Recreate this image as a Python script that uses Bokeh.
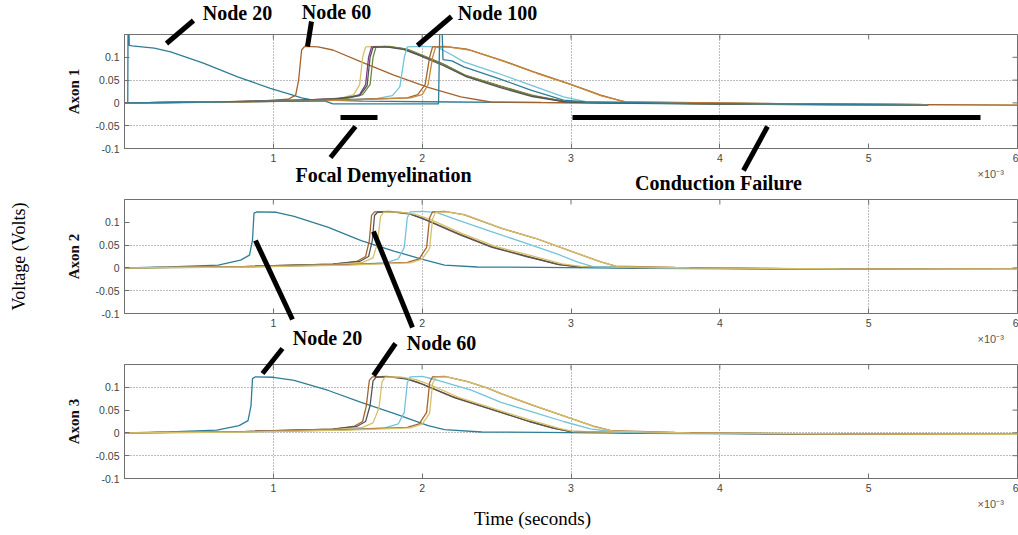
import math

from bokeh.core.properties import value
from bokeh.embed import file_html
from bokeh.layouts import column
from bokeh.models import FixedTicker, Range1d
from bokeh.plotting import figure
from bokeh.resources import INLINE

# ---------------------------------------------------------------------------
# Membrane potential traces (time in ms, i.e. seconds x 10^-3; voltage in V)
# ---------------------------------------------------------------------------

# Axon 1 (focal demyelination -> conduction failure)
AX1_N20_T = [0.0, 0.022, 0.024, 0.028, 0.032, 0.05, 0.2, 0.31, 0.53, 0.76, 0.98, 1.12, 1.19, 1.25, 1.6, 2.2, 3.0, 3.8, 4.6, 5.4]
AX1_N20_V = [0.0, 0.0, 0.2, 0.2, 0.126, 0.125, 0.12, 0.112, 0.087, 0.057, 0.032, 0.018, 0.011, 0.007, 0.004, 0.002, 0.0, -0.002, -0.004, -0.005]
AX1_N60_T = [0.0, 0.5, 0.9, 1.1, 1.15, 1.17, 1.19, 1.21, 1.3, 1.4, 1.59, 1.81, 2.04, 2.26, 2.46, 2.8, 3.5, 4.3, 5.4]
AX1_N60_V = [0.0, 0.001, 0.004, 0.008, 0.017, 0.05, 0.116, 0.124, 0.123, 0.116, 0.09, 0.061, 0.034, 0.013, 0.002, 0.001, 0.0, -0.003, -0.005]
AX1_KHAKI_T = [0.0, 0.6, 1.2, 1.45, 1.54, 1.58, 1.6, 1.62, 1.7, 1.85, 1.95, 2.13, 2.28, 2.51, 2.73, 2.96, 3.2, 4.0, 5.0, 6.0]
AX1_KHAKI_V = [0.0, 0.002, 0.006, 0.01, 0.018, 0.04, 0.1, 0.123, 0.124, 0.12, 0.109, 0.087, 0.062, 0.039, 0.018, 0.003, 0.001, -0.001, -0.004, -0.005]
AX1_PURPLE_T = [0.0, 0.6, 1.2, 1.5, 1.58, 1.62, 1.64, 1.66, 1.75, 1.87, 1.97, 2.14, 2.29, 2.52, 2.74, 2.97, 3.2, 4.2, 5.4]
AX1_PURPLE_V = [0.0, 0.002, 0.006, 0.011, 0.018, 0.04, 0.1, 0.123, 0.124, 0.119, 0.107, 0.085, 0.06, 0.037, 0.016, 0.002, 0.001, -0.002, -0.004]
AX1_OLIVE_T = [0.0, 0.6, 1.2, 1.5, 1.6, 1.65, 1.67, 1.69, 1.78, 1.9, 2.0, 2.15, 2.3, 2.53, 2.75, 2.98, 3.3, 4.5, 5.4]
AX1_OLIVE_V = [0.0, 0.002, 0.005, 0.01, 0.018, 0.04, 0.1, 0.123, 0.124, 0.118, 0.105, 0.084, 0.059, 0.036, 0.015, 0.002, 0.0, -0.003, -0.004]
AX1_DARK_T = [0.0, 0.8, 1.4, 1.58, 1.63, 1.65, 1.67, 1.76, 1.88, 1.98, 2.14, 2.3, 2.52, 2.74, 2.97, 3.2, 4.0, 5.4]
AX1_DARK_V = [0.0, 0.003, 0.008, 0.016, 0.038, 0.1, 0.122, 0.123, 0.117, 0.104, 0.082, 0.057, 0.034, 0.014, 0.002, 0.0, -0.002, -0.004]
AX1_CYAN_T = [0.0, 0.8, 1.4, 1.7, 1.8, 1.85, 1.88, 1.9, 2.0, 2.1, 2.2, 2.28, 2.51, 2.73, 2.95, 3.1, 3.5, 4.5, 5.4]
AX1_CYAN_V = [0.0, 0.002, 0.006, 0.01, 0.016, 0.035, 0.1, 0.123, 0.124, 0.123, 0.105, 0.09, 0.065, 0.039, 0.013, 0.003, 0.001, -0.002, -0.004]
AX1_BLUE_T = [0.0, 0.6, 1.1, 1.35, 1.4, 2.11, 2.12, 2.13, 2.14, 2.2, 2.28, 2.51, 2.73, 2.95, 3.1, 3.8, 4.6, 5.4]
AX1_BLUE_V = [0.0, 0.002, 0.004, 0.004, -0.002, -0.002, 0.2, 0.2, 0.095, 0.092, 0.079, 0.054, 0.028, 0.006, 0.002, -0.001, -0.003, -0.005]
AX1_BROWN2_T = [0.0, 0.8, 1.5, 1.9, 1.97, 2.02, 2.05, 2.07, 2.15, 2.3, 2.53, 2.75, 2.98, 3.2, 3.36, 3.7, 4.5, 5.4, 6.0]
AX1_BROWN2_V = [0.0, 0.003, 0.007, 0.011, 0.018, 0.04, 0.1, 0.123, 0.124, 0.118, 0.094, 0.068, 0.043, 0.017, 0.002, 0.001, -0.002, -0.004, -0.005]
AX1_ORANGE2_T = [0.0, 0.8, 1.5, 1.92, 2.0, 2.04, 2.07, 2.09, 2.17, 2.32, 2.55, 2.77, 3.0, 3.21, 3.37, 3.8, 4.6, 5.4]
AX1_ORANGE2_V = [0.0, 0.002, 0.006, 0.011, 0.018, 0.04, 0.1, 0.122, 0.123, 0.116, 0.091, 0.065, 0.04, 0.015, 0.002, 0.0, -0.003, -0.004]

# Axon 2
AX2_N20_T = [0.0, 0.3, 0.63, 0.78, 0.84, 0.86, 0.87, 0.89, 1.02, 1.14, 1.37, 1.59, 1.81, 1.99, 2.15, 2.37, 2.8, 3.5, 4.2, 5.4, 6.0]
AX2_N20_V = [0.0, 0.002, 0.006, 0.017, 0.028, 0.061, 0.12, 0.123, 0.122, 0.113, 0.089, 0.06, 0.037, 0.02, 0.006, 0.002, 0.001, -0.001, -0.002, -0.003, -0.003]
AX2_BROWN_T = [0.0, 0.8, 1.4, 1.56, 1.62, 1.645, 1.66, 1.68, 1.78, 1.9, 2.0, 2.24, 2.46, 2.69, 2.91, 3.05, 3.4, 4.4, 5.4]
AX2_BROWN_V = [0.0, 0.003, 0.008, 0.014, 0.025, 0.06, 0.115, 0.123, 0.124, 0.12, 0.109, 0.076, 0.047, 0.027, 0.008, 0.003, 0.001, -0.002, -0.003]
AX2_DARK_T = [0.0, 0.8, 1.4, 1.58, 1.64, 1.665, 1.68, 1.7, 1.8, 1.92, 2.02, 2.25, 2.47, 2.7, 2.92, 3.06, 3.5, 4.6, 5.4]
AX2_DARK_V = [0.0, 0.003, 0.008, 0.014, 0.025, 0.06, 0.115, 0.122, 0.123, 0.118, 0.106, 0.073, 0.045, 0.025, 0.007, 0.002, 0.0, -0.002, -0.003]
AX2_KHAKI_T = [0.0, 0.8, 1.4, 1.6, 1.67, 1.7, 1.72, 1.74, 1.84, 1.95, 2.05, 2.27, 2.49, 2.72, 2.94, 3.08, 3.6, 4.8, 6.0]
AX2_KHAKI_V = [0.0, 0.002, 0.007, 0.012, 0.022, 0.055, 0.112, 0.122, 0.123, 0.118, 0.107, 0.075, 0.047, 0.028, 0.009, 0.003, 0.0, -0.002, -0.003]
AX2_CYAN_T = [0.0, 0.8, 1.4, 1.75, 1.84, 1.88, 1.9, 1.92, 2.0, 2.1, 2.24, 2.46, 2.69, 2.91, 3.05, 3.15, 3.6, 4.6, 5.4]
AX2_CYAN_V = [0.0, 0.002, 0.006, 0.011, 0.02, 0.045, 0.11, 0.123, 0.124, 0.121, 0.105, 0.08, 0.055, 0.03, 0.012, 0.003, 0.0, -0.002, -0.003]
AX2_BROWN2_T = [0.0, 0.8, 1.5, 1.9, 1.98, 2.03, 2.05, 2.07, 2.15, 2.28, 2.53, 2.76, 2.98, 3.2, 3.3, 3.7, 4.6, 5.4, 6.0]
AX2_BROWN2_V = [0.0, 0.003, 0.007, 0.012, 0.02, 0.045, 0.11, 0.123, 0.124, 0.117, 0.087, 0.065, 0.039, 0.013, 0.004, 0.001, -0.002, -0.003, -0.003]
AX2_KHAKI2_T = [0.0, 0.8, 1.5, 1.92, 2.0, 2.05, 2.07, 2.09, 2.17, 2.3, 2.55, 2.78, 3.0, 3.21, 3.31, 3.8, 4.8, 6.0]
AX2_KHAKI2_V = [0.0, 0.002, 0.006, 0.011, 0.019, 0.043, 0.108, 0.122, 0.123, 0.115, 0.085, 0.063, 0.037, 0.012, 0.003, 0.0, -0.002, -0.003]

# Axon 3
AX3_N20_T = [0.0, 0.3, 0.62, 0.77, 0.83, 0.85, 0.86, 0.88, 1.0, 1.14, 1.37, 1.59, 1.81, 2.04, 2.15, 2.4, 2.8, 3.5, 4.3, 5.4, 6.0]
AX3_N20_V = [0.0, 0.002, 0.006, 0.016, 0.027, 0.06, 0.119, 0.123, 0.122, 0.115, 0.093, 0.067, 0.043, 0.016, 0.007, 0.002, 0.001, -0.001, -0.002, -0.003, -0.003]
AX3_BROWN_T = [0.0, 0.8, 1.4, 1.54, 1.6, 1.625, 1.645, 1.665, 1.76, 1.88, 1.98, 2.2, 2.53, 2.7, 2.87, 2.98, 3.3, 4.4, 5.4]
AX3_BROWN_V = [0.0, 0.003, 0.008, 0.014, 0.025, 0.06, 0.115, 0.123, 0.124, 0.12, 0.11, 0.08, 0.045, 0.027, 0.011, 0.004, 0.001, -0.002, -0.003]
AX3_DARK_T = [0.0, 0.8, 1.4, 1.56, 1.62, 1.65, 1.67, 1.69, 1.78, 1.9, 2.0, 2.22, 2.55, 2.72, 2.89, 3.0, 3.4, 4.6, 5.4]
AX3_DARK_V = [0.0, 0.003, 0.008, 0.014, 0.025, 0.06, 0.114, 0.122, 0.123, 0.118, 0.107, 0.077, 0.043, 0.025, 0.01, 0.003, 0.0, -0.002, -0.003]
AX3_KHAKI_T = [0.0, 0.8, 1.4, 1.6, 1.67, 1.71, 1.73, 1.75, 1.85, 1.96, 2.05, 2.26, 2.58, 2.75, 2.92, 3.02, 3.6, 4.8, 6.0]
AX3_KHAKI_V = [0.0, 0.002, 0.007, 0.012, 0.022, 0.055, 0.112, 0.122, 0.123, 0.117, 0.106, 0.076, 0.043, 0.026, 0.01, 0.003, 0.0, -0.002, -0.003]
AX3_CYAN_T = [0.0, 0.8, 1.4, 1.75, 1.84, 1.88, 1.9, 1.92, 2.0, 2.1, 2.33, 2.53, 2.75, 2.95, 3.13, 3.3, 3.8, 4.8, 5.4]
AX3_CYAN_V = [0.0, 0.002, 0.006, 0.011, 0.02, 0.045, 0.11, 0.123, 0.124, 0.116, 0.094, 0.067, 0.045, 0.025, 0.009, 0.002, 0.0, -0.002, -0.003]
AX3_BROWN2_T = [0.0, 0.8, 1.5, 1.9, 1.98, 2.03, 2.05, 2.07, 2.15, 2.3, 2.44, 2.53, 2.75, 2.98, 3.15, 3.27, 3.7, 4.6, 5.4, 6.0]
AX3_BROWN2_V = [0.0, 0.003, 0.007, 0.012, 0.02, 0.045, 0.11, 0.123, 0.124, 0.113, 0.098, 0.086, 0.06, 0.034, 0.015, 0.005, 0.001, -0.002, -0.003, -0.003]
AX3_KHAKI2_T = [0.0, 0.8, 1.5, 1.92, 2.0, 2.05, 2.07, 2.09, 2.17, 2.32, 2.46, 2.55, 2.77, 3.0, 3.16, 3.28, 3.8, 4.8, 6.0]
AX3_KHAKI2_V = [0.0, 0.002, 0.006, 0.011, 0.019, 0.043, 0.108, 0.122, 0.123, 0.111, 0.096, 0.084, 0.058, 0.032, 0.013, 0.004, 0.0, -0.002, -0.003]

# Axis ticks
X_TICKS = [1, 2, 3, 4, 5, 6]
Y_TICKS = [-0.1, -0.05, 0, 0.05, 0.1]
Y_TICK_LABELS = ["-0.1", "-0.05", "0", "0.05", "0.1"]

# ---------------------------------------------------------------------------
# Styling and layout
# ---------------------------------------------------------------------------
TEAL = "#2f7d96"
BROWN = "#a4632e"
KHAKI = "#d6c06a"
PURPLE = "#7a3d8c"
OLIVE = "#6b8a3a"
DARK = "#555555"
CYAN = "#74c3d9"
ORANGE = "#c7883a"
AXIS_GRAY = "#707070"
GRID_GRAY = "#7a7a7a"
SERIF = "Liberation Serif"
SANS = "Liberation Sans"

PAGE_W, PAGE_H = 1018, 535
FRAME_LEFT = 124
FRAME_W = 893
FRAME_H = 114
X_MIN, X_MAX = 0.0, 6.0
Y_MIN, Y_MAX = -0.1, 0.15
TICK_LEN = 5  # px, inward ticks

PANELS = [
    dict(name="Axon 1", canvas_top=0, height=190, frame_top=34,
         xgrid=[1, 2, 3, 4], ygrid=[-0.05, 0.05],
         traces=[(AX1_N20_T, AX1_N20_V, TEAL), (AX1_N60_T, AX1_N60_V, BROWN),
                 (AX1_KHAKI_T, AX1_KHAKI_V, KHAKI), (AX1_PURPLE_T, AX1_PURPLE_V, PURPLE),
                 (AX1_OLIVE_T, AX1_OLIVE_V, OLIVE), (AX1_DARK_T, AX1_DARK_V, DARK),
                 (AX1_CYAN_T, AX1_CYAN_V, CYAN), (AX1_BROWN2_T, AX1_BROWN2_V, BROWN),
                 (AX1_ORANGE2_T, AX1_ORANGE2_V, ORANGE), (AX1_BLUE_T, AX1_BLUE_V, TEAL)]),
    dict(name="Axon 2", canvas_top=190, height=165, frame_top=199,
         xgrid=[2, 5], ygrid=[-0.05, 0.05],
         traces=[(AX2_N20_T, AX2_N20_V, TEAL), (AX2_BROWN_T, AX2_BROWN_V, BROWN),
                 (AX2_DARK_T, AX2_DARK_V, DARK), (AX2_KHAKI_T, AX2_KHAKI_V, KHAKI),
                 (AX2_CYAN_T, AX2_CYAN_V, CYAN), (AX2_BROWN2_T, AX2_BROWN2_V, BROWN),
                 (AX2_KHAKI2_T, AX2_KHAKI2_V, KHAKI)]),
    dict(name="Axon 3", canvas_top=355, height=180, frame_top=364,
         xgrid=[1, 3, 4], ygrid=[-0.05, 0, 0.1],
         traces=[(AX3_N20_T, AX3_N20_V, TEAL), (AX3_BROWN_T, AX3_BROWN_V, BROWN),
                 (AX3_DARK_T, AX3_DARK_V, DARK), (AX3_KHAKI_T, AX3_KHAKI_V, KHAKI),
                 (AX3_CYAN_T, AX3_CYAN_V, CYAN), (AX3_BROWN2_T, AX3_BROWN2_V, BROWN),
                 (AX3_KHAKI2_T, AX3_KHAKI2_V, KHAKI)]),
]

# Callout texts in page pixels: (text, cx, cy, size, style, angle)
TEXTS = [
    ("Node 20", 237, 12, 20, "bold", 0),
    ("Node 60", 336, 11, 20, "bold", 0),
    ("Node 100", 497, 12, 20, "bold", 0),
    ("Focal Demyelination", 383, 174, 20, "bold", 0),
    ("Conduction Failure", 718, 182, 20, "bold", 0),
    ("Node 20", 327, 337, 20, "bold", 0),
    ("Node 60", 441, 342, 20, "bold", 0),
    ("Voltage (Volts)", 18, 256, 18, "normal", math.pi / 2),
    ("Time (seconds)", 532, 518, 19, "normal", 0),
]
# Callout strokes in page pixels
STROKE_X0 = [166, 307, 417, 340, 330, 572, 743, 255, 373, 262, 373]
STROKE_Y0 = [43, 46, 45, 117, 157, 117, 170, 240, 231, 373, 375]
STROKE_X1 = [193, 311, 451, 377, 355, 980, 767, 292, 412, 282, 395]
STROKE_Y1 = [20, 21, 16, 117, 126, 117, 126, 319, 327, 348, 343]


def make_panel(spec):
    top_border = spec["frame_top"] - spec["canvas_top"]
    bottom_border = spec["height"] - top_border - FRAME_H
    p = figure(frame_width=FRAME_W, frame_height=FRAME_H,
               x_range=Range1d(X_MIN, X_MAX), y_range=Range1d(Y_MIN, Y_MAX),
               output_backend="svg", toolbar_location=None,
               min_border_left=FRAME_LEFT, min_border_right=PAGE_W - FRAME_LEFT - FRAME_W,
               min_border_top=top_border, min_border_bottom=bottom_border,
               background_fill_color="white", border_fill_color="white",
               outline_line_color=AXIS_GRAY, outline_line_width=1)

    xa, ya = p.xaxis[0], p.yaxis[0]
    xa.ticker = FixedTicker(ticks=X_TICKS)
    ya.ticker = FixedTicker(ticks=Y_TICKS)
    ya.major_label_overrides = dict(zip(Y_TICKS, Y_TICK_LABELS))
    for ax in (xa, ya):
        ax.major_tick_in = TICK_LEN
        ax.major_tick_out = 0
        ax.minor_tick_line_color = None
        ax.axis_line_color = AXIS_GRAY
        ax.major_tick_line_color = AXIS_GRAY
        ax.major_label_text_font = SANS
        ax.major_label_text_font_size = "10.5px"
        ax.major_label_text_color = "#444444"
        ax.major_label_standoff = 5
    ya.axis_label = spec["name"]
    ya.axis_label_text_font = SERIF
    ya.axis_label_text_font_style = "bold"
    ya.axis_label_text_font_size = "15px"
    ya.axis_label_text_color = "#111111"
    ya.axis_label_standoff = 11

    p.xgrid.ticker = FixedTicker(ticks=spec["xgrid"])
    p.ygrid.ticker = FixedTicker(ticks=spec["ygrid"])
    for g in (p.xgrid, p.ygrid):
        g.grid_line_color = GRID_GRAY
        g.grid_line_dash = "1 2"
        g.grid_line_width = 1

    # inward tick marks mirrored on the top and right sides of the box
    dy = TICK_LEN / FRAME_H * (Y_MAX - Y_MIN)
    dx = TICK_LEN / FRAME_W * (X_MAX - X_MIN)
    p.segment(x0=X_TICKS, y0=[Y_MAX] * len(X_TICKS), x1=X_TICKS, y1=[Y_MAX - dy] * len(X_TICKS),
              line_color=AXIS_GRAY, line_width=1)
    p.segment(x0=[X_MAX] * len(Y_TICKS), y0=Y_TICKS, x1=[X_MAX - dx] * len(Y_TICKS), y1=Y_TICKS,
              line_color=AXIS_GRAY, line_width=1)

    for t, v, color in spec["traces"]:
        p.line(t, v, line_color=color, line_width=1.3)
    return p


panels = column(*[make_panel(spec) for spec in PANELS], spacing=0)

# Transparent full-page layer for callouts, drawn in page-pixel coordinates
overlay = figure(width=PAGE_W, height=PAGE_H,
                 x_range=Range1d(0, PAGE_W), y_range=Range1d(PAGE_H, 0),
                 output_backend="svg", toolbar_location=None,
                 x_axis_location=None, y_axis_location=None, min_border=0,
                 background_fill_color=None, border_fill_color=None, outline_line_color=None,
                 styles={"position": "absolute", "top": "0px", "left": "0px",
                         "z-index": "10", "pointer-events": "none"})
overlay.grid.visible = False

overlay.segment(x0=STROKE_X0, y0=STROKE_Y0, x1=STROKE_X1, y1=STROKE_Y1,
                line_color="black", line_width=5, line_cap="butt")

for text, cx, cy, size, style, angle in TEXTS:
    overlay.text(x=[cx], y=[cy], text=[text], angle=angle,
                 text_font=value(SERIF), text_font_size=value(f"{size}px"),
                 text_font_style=style, text_color="#000000",
                 text_align="center", text_baseline="middle")

# exponent marker under the right end of each time axis
overlay.text(x=[977] * len(PANELS),
             y=[spec["frame_top"] + FRAME_H + 25 for spec in PANELS],
             text=["\u00d710\u207b\u00b3"] * len(PANELS),
             text_font=value(SANS), text_font_size=value("11px"),
             text_color="#555555", text_align="left", text_baseline="middle")

open("out.html", "w").write(file_html([panels, overlay], INLINE))
